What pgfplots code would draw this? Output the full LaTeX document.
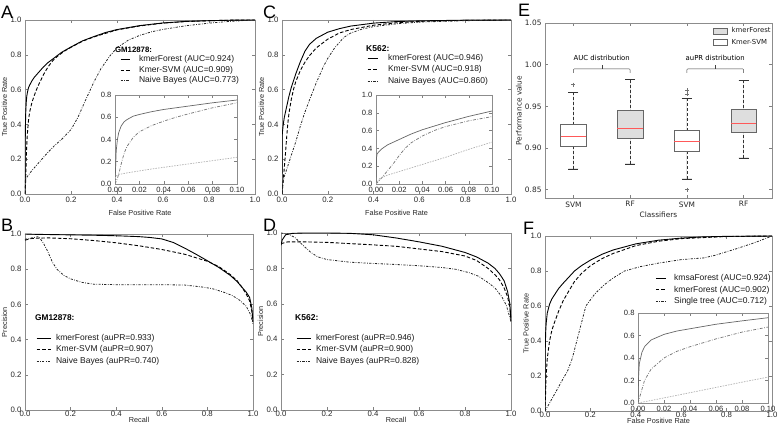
\documentclass[border=0pt]{standalone}
\usepackage{fontspec}
\setmainfont{Liberation Sans}
\newfontfamily\dejavu{DejaVu Sans}
\usepackage{pgfplots}
\usepackage{pgfplotstable}
\pgfplotsset{compat=1.18}
\usepgfplotslibrary{statistics}

\pgfplotsset{
  /pgf/number format/assume math mode=true,
  panelframe/.style={
    scale only axis, anchor=south west,
    axis line style={black!45, line width=0.7pt},
    tick align=inside, major tick length=3pt,
    every tick/.style={black!50, line width=0.5pt},
    tick label style={font=\fontsize{7.8}{8}\selectfont, text=black!85},
    label style={font=\fontsize{7.3}{8}\selectfont, text=black!85},
    ylabel style={yshift=-3.5pt},
    legend cell align=left,
    legend style={draw=none, fill=none, inner sep=0pt, anchor=north west,
      font=\fontsize{8.5}{9}\selectfont, text=black!90,
      nodes={inner sep=0pt, text height=6.2pt, text depth=1.8pt}},
  },
  roc/.style={panelframe, xmin=0, xmax=1, ymin=0, ymax=1,
    xtick={0,0.2,0.4,0.6,0.8,1}, ytick={0,0.2,0.4,0.6,0.8,1},
    /pgf/number format/fixed, /pgf/number format/fixed zerofill,
    /pgf/number format/precision=1},
  bottomrow/.style={xticklabel style={yshift=2.5pt}, xlabel style={yshift=6pt}},
  inset/.style={panelframe, axis background/.style={fill=white},
    xmin=0, xmax=0.1, ymin=0,
    xtick={0,0.02,0.04,0.06,0.08,0.1},
    xticklabel style={/pgf/number format/.cd, fixed, fixed zerofill, precision=2},
    yticklabel style={/pgf/number format/.cd, fixed, fixed zerofill, precision=1},
    tick label style={font=\fontsize{7.6}{8}\selectfont}},
  legimg/.style 2 args={legend image code/.code={\draw[##1] (0pt,0pt) -- (#1,0pt); \path (#2,0pt);}},
  boxleg/.style={legend image code/.code={\draw[##1] (0pt,-3pt) rectangle (14pt,3pt); \path (18pt,0pt);}},
  rfl/.style={black, line width=0.9pt},
  svml/.style={black, line width=0.9pt, dash pattern=on 3.5pt off 2pt},
  nbl/.style={black!85, line width=0.8pt, dash pattern=on 2.2pt off 1.4pt on 0.7pt off 1.4pt},
  rfi/.style={black!60, line width=0.7pt},
  svmi/.style={black!55, line width=0.7pt, dash pattern=on 3pt off 1.5pt on 0.7pt off 1.5pt},
  nbi/.style={black!30, line width=0.7pt, dash pattern=on 1.5pt off 1.2pt},
  boxplot/draw/lower whisker/.code={%
    \draw[black!80, dash pattern=on 3pt off 2pt] (boxplot cs:\pgfplotsboxplotvalue{lower whisker}) -- (boxplot cs:\pgfplotsboxplotvalue{lower quartile});
    \draw[black!80] (boxplot whisker cs:\pgfplotsboxplotvalue{lower whisker},0) -- (boxplot whisker cs:\pgfplotsboxplotvalue{lower whisker},1);
  },
  boxplot/draw/upper whisker/.code={%
    \draw[black!80, dash pattern=on 3pt off 2pt] (boxplot cs:\pgfplotsboxplotvalue{upper whisker}) -- (boxplot cs:\pgfplotsboxplotvalue{upper quartile});
    \draw[black!80] (boxplot whisker cs:\pgfplotsboxplotvalue{upper whisker},0) -- (boxplot whisker cs:\pgfplotsboxplotvalue{upper whisker},1);
  },
}

% ROC curves: fpr tpr
\pgfplotstableread{
x y
0 0
0.001 0.30
0.002 0.40
0.003 0.46
0.005 0.52
0.0075 0.56
0.01 0.58
0.015 0.61
0.02 0.625
0.03 0.65
0.04 0.67
0.05 0.685
0.06 0.70
0.08 0.73
0.10 0.755
0.13 0.785
0.16 0.815
0.20 0.845
0.25 0.88
0.30 0.905
0.35 0.928
0.40 0.945
0.50 0.968
0.60 0.983
0.70 0.992
0.80 0.996
0.90 0.999
1.00 1.00
}\Arf
\pgfplotstableread{
x y
0 0
0.002 0.05
0.004 0.13
0.006 0.22
0.008 0.29
0.01 0.34
0.015 0.42
0.02 0.47
0.03 0.525
0.04 0.565
0.05 0.60
0.06 0.63
0.08 0.685
0.10 0.73
0.12 0.765
0.14 0.79
0.17 0.82
0.20 0.843
0.25 0.878
0.30 0.903
0.40 0.943
0.50 0.966
0.60 0.982
0.70 0.991
0.80 0.996
0.90 0.999
1 1
}\Asvm
\pgfplotstableread{
x y
0 0
0.0005 0.07
0.003 0.085
0.01 0.10
0.03 0.135
0.05 0.165
0.08 0.21
0.10 0.24
0.13 0.28
0.16 0.315
0.20 0.37
0.23 0.44
0.26 0.53
0.30 0.645
0.33 0.72
0.37 0.795
0.40 0.84
0.45 0.885
0.50 0.912
0.55 0.932
0.60 0.946
0.70 0.967
0.80 0.982
0.90 0.993
1 1
}\Anb
\pgfplotstableread{
x y
0 0
0.0005 0.30
0.001 0.34
0.003 0.37
0.005 0.395
0.01 0.44
0.02 0.50
0.03 0.56
0.04 0.61
0.06 0.69
0.08 0.76
0.10 0.82
0.12 0.86
0.15 0.895
0.20 0.93
0.25 0.95
0.30 0.965
0.40 0.982
0.50 0.991
0.60 0.995
0.80 0.999
1 1
}\Crf
\pgfplotstableread{
x y
0 0
0.005 0.07
0.01 0.15
0.015 0.23
0.02 0.32
0.025 0.40
0.03 0.46
0.04 0.54
0.05 0.60
0.06 0.645
0.08 0.71
0.10 0.757
0.12 0.795
0.15 0.84
0.20 0.89
0.25 0.925
0.30 0.945
0.40 0.97
0.50 0.984
0.60 0.992
0.80 0.998
1 1
}\Csvm
\pgfplotstableread{
x y
0 0
0.003 0.06
0.01 0.10
0.02 0.14
0.04 0.22
0.06 0.30
0.08 0.39
0.10 0.47
0.12 0.54
0.15 0.64
0.18 0.73
0.20 0.78
0.23 0.84
0.27 0.90
0.30 0.925
0.35 0.948
0.40 0.962
0.50 0.978
0.60 0.988
0.80 0.996
1 1
}\Cnb
\pgfplotstableread{
x y
0 0
0.0005 0.25
0.001 0.35
0.003 0.45
0.005 0.50
0.01 0.56
0.02 0.61
0.03 0.64
0.04 0.66
0.06 0.70
0.08 0.73
0.10 0.758
0.13 0.80
0.16 0.83
0.20 0.862
0.25 0.895
0.30 0.92
0.40 0.955
0.50 0.976
0.60 0.988
0.70 0.995
0.80 0.998
1 1
}\Fks
\pgfplotstableread{
x y
0 0
0.002 0.08
0.005 0.20
0.01 0.30
0.02 0.40
0.03 0.46
0.04 0.50
0.06 0.57
0.08 0.63
0.10 0.675
0.13 0.74
0.16 0.785
0.20 0.83
0.25 0.87
0.30 0.90
0.40 0.945
0.50 0.97
0.60 0.985
0.80 0.997
1 1
}\Fkf
\pgfplotstableread{
x y
0 0
0.02 0.045
0.05 0.115
0.08 0.185
0.10 0.23
0.12 0.30
0.14 0.40
0.16 0.50
0.18 0.60
0.22 0.67
0.26 0.72
0.30 0.76
0.35 0.80
0.42 0.825
0.50 0.845
0.60 0.865
0.70 0.875
0.75 0.89
0.85 0.93
0.93 0.965
1 1
}\Ftree

\begin{document}
\begin{tikzpicture}
\useasboundingbox (0pt,0pt) rectangle (778pt,430pt);

% ---------------- A ----------------
\begin{axis}[roc, at={(25pt,236pt)}, width=230pt, height=174pt,
  xlabel={False Positive Rate}, ylabel={True Positive Rate},
  legimg={9pt}{18pt},
  legend style={at={(0.413,0.796)}, row sep=2.5pt}]
\addplot[rfl] table {\Arf};
\addlegendentry{kmerForest (AUC=0.924)}
\addplot[svml] table {\Asvm};
\addlegendentry{Kmer-SVM (AUC=0.909)}
\addplot[nbl] table {\Anb};
\addlegendentry{Naive Bayes (AUC=0.773)}
\node[anchor=west, inner sep=0pt, font=\bfseries\fontsize{7.8}{9}\selectfont] at (axis description cs:0.391,0.828) {GM12878:};
\end{axis}
\begin{axis}[inset, at={(115pt,246pt)}, width=122pt, height=89pt,
  ymax=0.8, ytick={0,0.2,0.4,0.6,0.8}]
\addplot[rfi] table {\Arf};
\addplot[svmi] table {\Asvm};
\addplot[nbi] table {\Anb};
\end{axis}

% ---------------- C ----------------
\begin{axis}[roc, at={(282pt,236pt)}, width=229pt, height=174pt,
  xlabel={False Positive Rate}, ylabel={True Positive Rate},
  legimg={10pt}{20pt},
  legend style={at={(0.371,0.803)}, row sep=3.3pt}]
\addplot[rfl] table {\Crf};
\addlegendentry{kmerForest (AUC=0.946)}
\addplot[svml] table {\Csvm};
\addlegendentry{Kmer-SVM (AUC=0.918)}
\addplot[nbl] table {\Cnb};
\addlegendentry{Naive Bayes (AUC=0.860)}
\node[anchor=west, inner sep=0pt, font=\bfseries\fontsize{8.5}{9}\selectfont] at (axis description cs:0.367,0.837) {K562:};
\end{axis}
\begin{axis}[inset, at={(376pt,246pt)}, width=116pt, height=89pt,
  ymax=1, ytick={0,0.2,0.4,0.6,0.8,1}]
\addplot[rfi] table {\Crf};
\addplot[svmi] table {\Csvm};
\addplot[nbi] table {\Cnb};
\end{axis}

% ---------------- E ----------------
\begin{axis}[panelframe, at={(545pt,232pt)}, width=227pt, height=175pt,
  xmin=0.5, xmax=4.5, ymin=0.84, ymax=1.05,
  xtick={1,2,3,4}, xticklabels={SVM,RF,SVM,RF},
  ytick={0.85,0.9,0.95,1,1.05},
  yticklabel style={/pgf/number format/.cd, fixed, fixed zerofill, precision=2},
  tick label style={font=\dejavu\fontsize{7.4}{8}\selectfont},
  label style={font=\dejavu\fontsize{7.4}{8}\selectfont},
  xlabel style={yshift=2pt},
  xlabel={Classifiers}, ylabel={Performance value},
  boxleg,
  legend style={at={(0.74,0.975)}, row sep=5pt,
    font=\dejavu\fontsize{6.9}{8}\selectfont,
    nodes={inner sep=0pt, text height=5pt, text depth=1.5pt}},
  boxplot/draw direction=y,
  boxplot/box extend=0.45, boxplot/whisker extend=0.18,
  boxplot/every median/.style={draw=red!65, line width=0.9pt}]
\addplot[forget plot, draw=black!60, fill=white, mark=+, mark size=2pt, mark options={black!55},
  boxplot prepared={draw position=1, lower whisker=0.875, lower quartile=0.902,
    median=0.914, upper quartile=0.929, upper whisker=0.967}]
  coordinates {(0,0.976)};
\addplot[forget plot, draw=black!60, fill=black!13,
  boxplot prepared={draw position=2, lower whisker=0.881, lower quartile=0.912,
    median=0.924, upper quartile=0.945, upper whisker=0.982}]
  coordinates {};
\addplot[forget plot, draw=black!60, fill=white, mark=+, mark size=2pt, mark options={black!55},
  boxplot prepared={draw position=3, lower whisker=0.863, lower quartile=0.896,
    median=0.9075, upper quartile=0.9215, upper whisker=0.9595}]
  coordinates {(0,0.969) (0,0.965) (0,0.850)};
\addplot[forget plot, draw=black!60, fill=black!13,
  boxplot prepared={draw position=4, lower whisker=0.888, lower quartile=0.919,
    median=0.930, upper quartile=0.946, upper whisker=0.981}]
  coordinates {};
\addlegendimage{draw=black!60, fill=black!13}
\addlegendentry{kmerForest}
\addlegendimage{draw=black!60, fill=white}
\addlegendentry{Kmer-SVM}
\draw[black!75, rounded corners=1pt] (axis cs:1,0.990) -- (axis cs:1,0.995) -- (axis cs:2,0.995) -- (axis cs:2,0.990);
\draw[black!75] (axis cs:1.5,0.995) -- (axis cs:1.5,0.999);
\draw[black!75, rounded corners=1pt] (axis cs:3,0.990) -- (axis cs:3,0.995) -- (axis cs:4,0.995) -- (axis cs:4,0.990);
\draw[black!75] (axis cs:3.5,0.995) -- (axis cs:3.5,0.999);
\node[font=\dejavu\fontsize{6.9}{8}\selectfont] at (axis cs:1.5,1.0075) {AUC distribution};
\node[font=\dejavu\fontsize{6.9}{8}\selectfont] at (axis cs:3.5,1.0075) {auPR distribution};
\end{axis}

% ---------------- B ----------------
\begin{axis}[roc, bottomrow, at={(25pt,20pt)}, width=228pt, height=176pt,
  xlabel={Recall}, ylabel={Precision},
  legimg={14pt}{19pt},
  legend style={at={(0.048,0.432)}, row sep=3.5pt}]
\addplot[rfl] coordinates {(0,1.0) (0.05,0.998) (0.2,0.995) (0.3,0.993) (0.4,0.99)
  (0.5,0.985) (0.55,0.98) (0.6,0.972) (0.65,0.952) (0.7,0.92) (0.75,0.885) (0.8,0.848)
  (0.85,0.81) (0.9,0.765) (0.93,0.73) (0.95,0.70) (0.97,0.67) (0.985,0.64) (0.995,0.58) (1.0,0.50)};
\addlegendentry{kmerForest (auPR=0.933)}
\addplot[svml] coordinates {(0,0.965) (0.03,0.975) (0.1,0.978) (0.2,0.973) (0.3,0.963)
  (0.4,0.95) (0.5,0.933) (0.6,0.912) (0.7,0.885) (0.8,0.845) (0.85,0.815) (0.9,0.77)
  (0.93,0.735) (0.95,0.70) (0.97,0.66) (0.985,0.62) (0.995,0.56) (1.0,0.50)};
\addlegendentry{Kmer-SVM (auPR=0.907)}
\addplot[nbl] coordinates {(0,0.97) (0.03,0.978) (0.06,0.985) (0.08,0.95) (0.1,0.90)
  (0.12,0.84) (0.14,0.80) (0.17,0.765) (0.2,0.745) (0.25,0.725) (0.3,0.715) (0.4,0.712)
  (0.5,0.712) (0.6,0.712) (0.7,0.71) (0.77,0.70) (0.82,0.69) (0.87,0.67) (0.91,0.65)
  (0.94,0.625) (0.97,0.59) (0.99,0.54) (1.0,0.49)};
\addlegendentry{Naive Bayes (auPR=0.740)}
\node[anchor=west, inner sep=0pt, font=\bfseries\fontsize{8.3}{9}\selectfont] at (axis description cs:0.044,0.523) {GM12878:};
\end{axis}

% ---------------- D ----------------
\begin{axis}[roc, bottomrow, at={(281pt,20pt)}, width=230pt, height=177pt,
  xlabel={Recall}, ylabel={Precision},
  legimg={14pt}{19pt},
  legend style={at={(0.065,0.429)}, row sep=3.5pt}]
\addplot[rfl] coordinates {(0,0.93) (0.005,0.96) (0.02,0.99) (0.05,0.998) (0.1,1.0)
  (0.2,1.0) (0.3,0.998) (0.4,0.99) (0.5,0.972) (0.6,0.95) (0.7,0.925) (0.8,0.89)
  (0.85,0.865) (0.9,0.83) (0.93,0.80) (0.95,0.77) (0.97,0.73) (0.985,0.67) (0.995,0.6) (1.0,0.5)};
\addlegendentry{kmerForest (auPR=0.946)}
\addplot[svml] coordinates {(0,0.94) (0.03,0.95) (0.1,0.95) (0.2,0.947) (0.3,0.94)
  (0.4,0.933) (0.5,0.925) (0.6,0.91) (0.7,0.895) (0.8,0.87) (0.85,0.845) (0.9,0.80)
  (0.93,0.765) (0.95,0.735) (0.97,0.69) (0.985,0.64) (0.995,0.58) (1.0,0.5)};
\addlegendentry{Kmer-SVM (auPR=0.900)}
\addplot[nbl] coordinates {(0,1.0) (0.03,0.995) (0.06,0.975) (0.08,0.95) (0.1,0.925)
  (0.13,0.89) (0.16,0.865) (0.2,0.85) (0.3,0.835) (0.4,0.828) (0.5,0.822) (0.6,0.815)
  (0.7,0.805) (0.76,0.795) (0.82,0.775) (0.86,0.755) (0.9,0.72) (0.93,0.69) (0.96,0.64)
  (0.98,0.59) (1.0,0.50)};
\addlegendentry{Naive Bayes (auPR=0.828)}
\node[anchor=west, inner sep=0pt, font=\bfseries\fontsize{8.5}{9}\selectfont] at (axis description cs:0.061,0.520) {K562:};
\end{axis}

% ---------------- F ----------------
\begin{axis}[roc, bottomrow, at={(545pt,19pt)}, width=227pt, height=175pt,
  xlabel={False Positive Rate}, ylabel={True Positive Rate},
  ylabel style={yshift=-1.5pt},
  legimg={10pt}{18pt},
  legend style={at={(0.485,0.781)}, row sep=3.4pt}]
\addplot[rfl] table {\Fks};
\addlegendentry{kmsaForest (AUC=0.924)}
\addplot[svml] table {\Fkf};
\addlegendentry{kmerForest (AUC=0.902)}
\addplot[nbl] table {\Ftree};
\addlegendentry{Single tree (AUC=0.712)}
\end{axis}
\begin{axis}[inset, at={(638pt,27pt)}, width=130pt, height=90pt,
  ymax=0.8, ytick={0,0.2,0.4,0.6,0.8}]
\addplot[rfi] table {\Fks};
\addplot[svmi] table {\Fkf};
\addplot[nbi] table {\Ftree};
\end{axis}

% panel letters
\node[anchor=base west, inner sep=0pt, font=\fontsize{18}{18}\selectfont] at (1pt,411pt) {A};
\node[anchor=base west, inner sep=0pt, font=\fontsize{18}{18}\selectfont] at (263pt,411pt) {C};
\node[anchor=base west, inner sep=0pt, font=\fontsize{18}{18}\selectfont] at (518pt,413pt) {E};
\node[anchor=base west, inner sep=0pt, font=\fontsize{18}{18}\selectfont] at (1pt,198pt) {B};
\node[anchor=base west, inner sep=0pt, font=\fontsize{18}{18}\selectfont] at (263pt,198pt) {D};
\node[anchor=base west, inner sep=0pt, font=\fontsize{18}{18}\selectfont] at (523pt,195pt) {F};
\end{tikzpicture}
\end{document}
